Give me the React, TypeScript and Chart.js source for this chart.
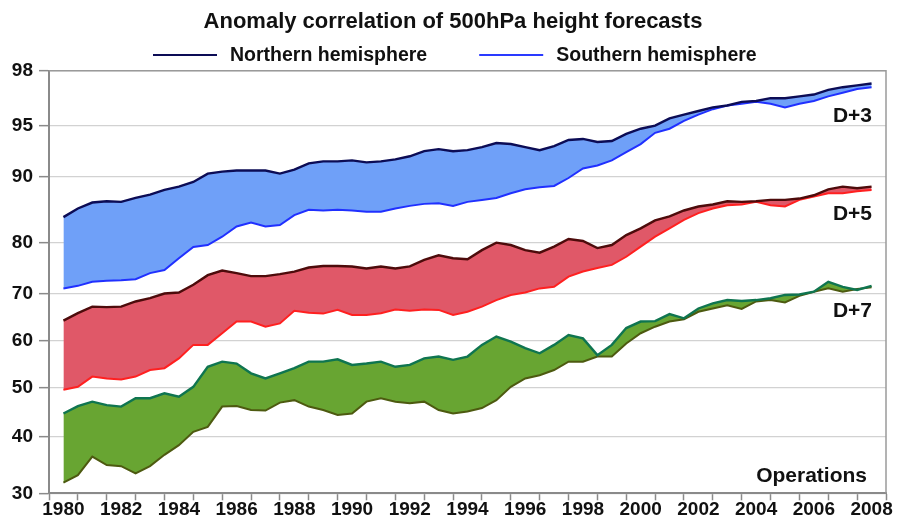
import React, { useEffect, useRef } from 'react';
import { Chart, registerables, LinearScale } from 'chart.js';

Chart.register(...registerables);

// ---- Data (anomaly correlation, %), 12-month running means sampled every half year ----
const YEARS = [
  1980.5, 1981, 1981.5, 1982, 1982.5, 1983, 1983.5, 1984, 1984.5, 1985,
  1985.5, 1986, 1986.5, 1987, 1987.5, 1988, 1988.5, 1989, 1989.5, 1990,
  1990.5, 1991, 1991.5, 1992, 1992.5, 1993, 1993.5, 1994, 1994.5, 1995,
  1995.5, 1996, 1996.5, 1997, 1997.5, 1998, 1998.5, 1999, 1999.5, 2000,
  2000.5, 2001, 2001.5, 2002, 2002.5, 2003, 2003.5, 2004, 2004.5, 2005,
  2005.5, 2006, 2006.5, 2007, 2007.5, 2008, 2008.5,
];

const D3_NH = [
  83.9, 85.2, 86.1, 86.3, 86.2, 86.8, 87.3, 88.0, 88.5, 89.2,
  90.3, 90.5, 90.6, 90.6, 90.6, 90.3, 90.7, 91.3, 91.5, 91.5,
  91.6, 91.4, 91.5, 91.7, 92.0, 92.5, 92.7, 92.5, 92.6, 92.9,
  93.3, 93.2, 92.9, 92.6, 93.0, 93.6, 93.7, 93.4, 93.5, 94.2,
  94.7, 95.0, 95.4, 95.6, 95.8, 96.0, 96.1, 96.3, 96.35, 96.5,
  96.5, 96.6, 96.7, 96.95, 97.1, 97.2, 97.3,
];
const D3_SH = [
  71.1, 71.6, 72.4, 72.6, 72.7, 72.9, 74.1, 74.7, 77.0, 79.2,
  79.6, 80.95, 82.5, 83.1, 82.5, 82.7, 84.2, 85.0, 84.9, 85.0,
  84.9, 84.7, 84.7, 85.2, 85.6, 85.9, 86.0, 85.6, 86.2, 86.5,
  86.8, 87.5, 88.1, 88.4, 88.6, 89.8, 90.8, 91.1, 91.6, 92.4,
  93.2, 94.3, 94.7, 95.26, 95.6, 95.9, 96.1, 96.2, 96.3, 96.2,
  96.0, 96.2, 96.35, 96.6, 96.8, 97.0, 97.1,
];
const D5_NH = [
  64.3, 65.9, 67.3, 67.2, 67.3, 68.4, 69.1, 70.1, 70.3, 71.8,
  73.7, 74.6, 74.1, 73.5, 73.5, 73.9, 74.4, 75.2, 75.5, 75.5,
  75.4, 75.0, 75.4, 75.0, 75.4, 76.7, 77.6, 77.0, 76.8, 78.6,
  80.05, 79.6, 78.6, 78.1, 79.3, 80.6, 80.3, 79.0, 79.6, 81.2,
  82.2, 83.4, 84.0, 84.9, 85.5, 85.8, 86.3, 86.2, 86.3, 86.5,
  86.5, 86.7, 87.2, 88.1, 88.5, 88.25, 88.5,
];
const D5_SH = [
  49.5, 50.1, 52.3, 51.9, 51.7, 52.3, 53.7, 54.1, 56.2, 59.1,
  59.1, 61.6, 64.1, 64.1, 63.0, 63.7, 66.4, 66.0, 65.8, 66.6,
  65.5, 65.5, 65.9, 66.7, 66.4, 66.7, 66.6, 65.5, 66.2, 67.3,
  68.7, 69.8, 70.3, 71.1, 71.4, 73.4, 74.4, 75.1, 75.7, 77.3,
  79.3, 80.95, 82.2, 83.5, 84.5, 85.2, 85.7, 85.8, 86.2, 85.7,
  85.5, 86.5, 87.0, 87.5, 87.5, 87.8, 88.0,
];
const D7_NH = [
  44.7, 46.2, 47.1, 46.4, 46.1, 47.8, 47.8, 48.8, 48.1, 50.1,
  54.4, 55.5, 55.1, 53.0, 51.9, 53.0, 54.1, 55.5, 55.5, 56.0,
  54.8, 55.1, 55.5, 54.4, 54.8, 56.2, 56.6, 55.9, 56.6, 59.1,
  60.9, 59.8, 58.4, 57.3, 59.1, 61.2, 60.5, 56.9, 59.1, 62.7,
  64.1, 64.2, 65.7, 64.8, 66.9, 68.0, 68.7, 68.5, 68.7, 69.1,
  69.8, 69.9, 70.45, 72.4, 71.4, 70.8, 71.6,
];
const D7_SH = [
  31.9, 33.2, 36.5, 35.0, 34.8, 33.5, 34.8, 36.8, 38.5, 41.0,
  42.0, 46.1, 46.2, 45.4, 45.3, 46.9, 47.4, 46.1, 45.4, 44.4,
  44.7, 47.1, 47.8, 47.1, 46.8, 47.1, 45.4, 44.7, 45.1, 45.8,
  47.4, 50.1, 51.9, 52.6, 53.7, 55.5, 55.5, 56.6, 56.6, 59.4,
  61.6, 63.0, 64.1, 64.6, 66.2, 66.9, 67.6, 66.8, 68.4, 68.7,
  68.2, 69.6, 70.45, 71.1, 70.45, 71.0, 71.3,
];

// ---- Axis definitions ----
const Y_TICKS = [30, 40, 50, 60, 70, 80, 90, 95, 98];
// relative position of each y tick along the (non-linear) axis, bottom = 0, top = 1
const Y_TICK_FRACTIONS = [0, 0.1339, 0.2508, 0.3611, 0.4716, 0.5923, 0.7492, 0.8699, 1];
const X_MIN = 1980;
const X_MAX = 2009;
const X_LABEL_YEARS = [
  1980, 1982, 1984, 1986, 1988, 1990, 1992, 1994, 1996, 1998, 2000, 2002, 2004, 2006, 2008,
];

const TITLE = 'Anomaly correlation of 500hPa height forecasts';
const LEGEND_TEXTS = ['Northern hemisphere', 'Southern hemisphere'];
const LEAD_LABELS = ['D+3', 'D+5', 'D+7'];
const NOTE = 'Operations';

const FONT = '"Liberation Sans", Arial, Helvetica, sans-serif';

const COLORS = {
  d3: { nh: '#0c0c55', sh: '#2030ff', fill: '#6fa0f8' },
  d5: { nh: '#4d0b0b', sh: '#ff2020', fill: '#e05868' },
  d7: { nh: '#0f7550', sh: '#4d5a10', fill: '#68a532' },
};
const LEGEND_COLORS = ['#0c0c55', '#2a3aff'];

function warp(v: number): number {
  const t = Y_TICKS;
  const f = Y_TICK_FRACTIONS;
  const n = t.length - 1;
  if (v <= t[0]) return f[0] + ((v - t[0]) * (f[1] - f[0])) / (t[1] - t[0]);
  for (let i = 1; i <= n; i++) {
    if (v <= t[i]) return f[i - 1] + ((v - t[i - 1]) / (t[i] - t[i - 1])) * (f[i] - f[i - 1]);
  }
  return f[n] + ((v - t[n]) * (f[n] - f[n - 1])) / (t[n] - t[n - 1]);
}
function unwarp(d: number): number {
  const t = Y_TICKS;
  const f = Y_TICK_FRACTIONS;
  const n = t.length - 1;
  if (d <= f[0]) return t[0] + ((d - f[0]) * (t[1] - t[0])) / (f[1] - f[0]);
  for (let i = 1; i <= n; i++) {
    if (d <= f[i]) return t[i - 1] + ((d - f[i - 1]) / (f[i] - f[i - 1])) * (t[i] - t[i - 1]);
  }
  return t[n] + ((d - f[n]) * (t[n] - t[n - 1])) / (f[n] - f[n - 1]);
}

class WarpScale extends LinearScale {
  static id = 'warp';
  static defaults = {};
  buildTicks() {
    return Y_TICKS.map((value) => ({ value }));
  }
  getPixelForValue(value: number) {
    return (this as any).getPixelForDecimal(warp(value));
  }
  getValueForPixel(pixel: number) {
    return unwarp((this as any).getDecimalForPixel(pixel));
  }
}
Chart.register(WarpScale as any);

const pts = (arr: number[]) => YEARS.map((x, i) => ({ x, y: arr[i] }));

const lineDs = (label: string, data: number[], color: string, width: number) => ({
  label,
  data: pts(data),
  borderColor: color,
  borderWidth: width,
  pointRadius: 0,
  tension: 0,
  fill: false,
});
const fillDs = (label: string, data: number[], color: string, fillColor: string) => ({
  label,
  data: pts(data),
  borderColor: color,
  borderWidth: 2,
  pointRadius: 0,
  tension: 0,
  backgroundColor: fillColor,
  fill: { target: '-1', above: fillColor, below: fillColor },
});

const decorPlugin = {
  id: 'decor',
  beforeDatasetsDraw(chart: any) {
    const { ctx, chartArea } = chart;
    ctx.save();
    ctx.strokeStyle = '#9a9a9a';
    ctx.lineWidth = 1.5;
    ctx.beginPath();
    ctx.moveTo(chartArea.left, chartArea.top);
    ctx.lineTo(chartArea.right, chartArea.top);
    ctx.lineTo(chartArea.right, chartArea.bottom);
    ctx.stroke();
    ctx.restore();
  },
  afterDraw(chart: any) {
    const { ctx, chartArea } = chart;
    ctx.save();
    ctx.fillStyle = '#111';
    // title
    ctx.font = `bold 22px ${FONT}`;
    ctx.textAlign = 'center';
    ctx.textBaseline = 'alphabetic';
    ctx.fillText(TITLE, chart.width / 2 + 4.5, 28);
    // legend
    ctx.font = `bold 19.5px ${FONT}`;
    ctx.textAlign = 'left';
    let x = 153;
    LEGEND_TEXTS.forEach((text, i) => {
      ctx.strokeStyle = LEGEND_COLORS[i];
      ctx.lineWidth = 2.2;
      ctx.beginPath();
      ctx.moveTo(x, 55);
      ctx.lineTo(x + 64, 55);
      ctx.stroke();
      ctx.fillStyle = '#111';
      ctx.fillText(text, x + 77, 61);
      x += 77 + ctx.measureText(text).width + 52;
    });
    // lead-time labels
    ctx.font = `bold 21px ${FONT}`;
    ctx.textAlign = 'right';
    const right = chartArea.right - 14;
    const baselines = [51.6, 149.3, 246.6];
    LEAD_LABELS.forEach((t, i) => ctx.fillText(t, right, chartArea.top + baselines[i]));
    ctx.fillText(NOTE, chartArea.right - 19, chartArea.bottom - 11.5);
    ctx.restore();
  },
};

export default function App() {
  const ref = useRef<HTMLCanvasElement>(null);
  useEffect(() => {
    document.body.style.margin = '0';
    Chart.defaults.font.family = FONT;
    Chart.defaults.color = '#111';
    const xTicks: number[] = [];
    for (let v = X_MIN; v <= X_MAX; v += 0.5) xTicks.push(v);
    const isYear = (v: number) => Math.abs(v - Math.round(v)) < 1e-6;
    const chart = new Chart(ref.current as HTMLCanvasElement, {
      type: 'line',
      data: {
        datasets: [
          lineDs('D+3 Northern hemisphere', D3_NH, COLORS.d3.nh, 2.4),
          fillDs('D+3 Southern hemisphere', D3_SH, COLORS.d3.sh, COLORS.d3.fill),
          lineDs('D+5 Northern hemisphere', D5_NH, COLORS.d5.nh, 2.4),
          fillDs('D+5 Southern hemisphere', D5_SH, COLORS.d5.sh, COLORS.d5.fill),
          lineDs('D+7 Northern hemisphere', D7_NH, COLORS.d7.nh, 2.4),
          fillDs('D+7 Southern hemisphere', D7_SH, COLORS.d7.sh, COLORS.d7.fill),
        ],
      } as any,
      options: {
        animation: false,
        responsive: false,
        devicePixelRatio: 1,
        layout: { padding: { top: 70.7, right: 11, bottom: 0, left: 0 } },
        plugins: {
          legend: { display: false },
          title: { display: false },
          tooltip: { enabled: false },
        },
        scales: {
          x: {
            type: 'linear',
            min: X_MIN,
            max: X_MAX,
            afterBuildTicks: (s: any) => {
              s.ticks = xTicks.map((value) => ({ value }));
            },
            afterFit: (s: any) => {
              s.height = 28.7;
            },
            grid: {
              drawOnChartArea: false,
              drawTicks: true,
              tickLength: 7,
              tickWidth: 1.5,
              tickColor: (c: any) => (c.tick && isYear(c.tick.value) ? '#8a8a8a' : 'rgba(0,0,0,0)'),
            },
            border: { display: true, color: '#8a8a8a', width: 2 },
            ticks: {
              autoSkip: false,
              maxRotation: 0,
              minRotation: 0,
              padding: 0,
              color: '#111',
              font: { size: 19, weight: 'bold', lineHeight: 1.0 },
              callback: (value: any) => {
                const y = Number(value) - 0.5;
                return X_LABEL_YEARS.includes(y) ? String(y) : '';
              },
            },
          },
          y: {
            type: 'warp',
            min: 30,
            max: 98,
            afterFit: (s: any) => {
              s.width = 49;
            },
            grid: {
              color: '#d2d2d2',
              lineWidth: 1.3,
              drawTicks: true,
              tickLength: 10,
              tickColor: '#8a8a8a',
              tickWidth: 1.5,
            },
            border: { display: true, color: '#8a8a8a', width: 2 },
            ticks: {
              padding: 6,
              color: '#111',
              font: { size: 19, weight: 'bold' },
              callback: (value: any) => String(value),
            },
          },
        } as any,
      },
      plugins: [decorPlugin],
    } as any);
    return () => chart.destroy();
  }, []);
  return (
    <div style={{ width: 897, height: 522 }}>
      <canvas ref={ref} width={897} height={522} style={{ display: 'block' }} />
    </div>
  );
}
